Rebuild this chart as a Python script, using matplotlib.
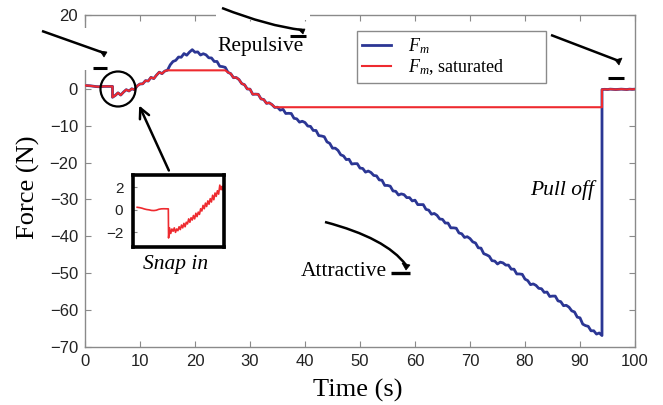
import numpy as np
import matplotlib
matplotlib.use("Agg")
import matplotlib.pyplot as plt
from matplotlib.transforms import Affine2D
from matplotlib.patches import Rectangle, Circle, FancyArrowPatch, Polygon
from matplotlib.path import Path
from matplotlib.patches import PathPatch
from matplotlib.lines import Line2D

plt.rcParams['font.family'] = ['Liberation Sans', 'DejaVu Sans']
plt.rcParams['mathtext.fontset'] = 'custom'
plt.rcParams['mathtext.it'] = 'Liberation Serif:italic'
plt.rcParams['mathtext.rm'] = 'Liberation Serif'

# ---------------- data ----------------
time_pre = [0.0, 0.5, 1.0, 1.5, 2.0, 2.5, 3.0, 3.5, 4.0, 4.5, 5.0]
force_pre = [0.9, 0.85, 0.8, 0.7, 0.6, 0.55, 0.6, 0.65, 0.65, 0.65, 0.65]

time_load_start, time_load_end, time_load_step = 5.0, 94.0, 0.5
force_load = [
    -2.3, -1.8, -1.1, -1.7, -0.9, -0.25, -0.6, 0.0, -0.25, 0.8,
    1.3, 1.35, 2.2, 2.1, 3.1, 2.75, 3.7, 4.5, 4.1, 4.8,
    5.05, 6.5, 7.4, 7.7, 8.6, 8.55, 9.55, 9.1, 9.95, 10.6,
    9.9, 10.0, 9.15, 9.5, 9.2, 8.4, 8.35, 7.4, 7.4, 6.1,
    6.0, 5.8, 4.45, 4.1, 3.0, 3.05, 2.5, 1.4, 1.1, -0.05,
    -0.1, -1.5, -1.45, -1.5, -2.75, -2.9, -3.95, -3.8, -4.3, -5.05,
    -5.0, -5.8, -5.55, -6.7, -6.65, -6.7, -8.0, -8.15, -9.05, -8.8,
    -9.15, -10.1, -10.2, -11.3, -11.3, -12.7, -12.8, -13.0, -14.4, -14.8,
    -16.1, -16.1, -16.7, -17.9, -18.2, -19.2, -19.1, -20.4, -20.3, -20.3,
    -21.5, -21.6, -22.6, -22.3, -22.7, -23.5, -23.6, -24.7, -24.8, -26.2,
    -26.2, -26.4, -27.7, -27.8, -28.8, -28.5, -28.7, -29.5, -29.5, -30.4,
    -30.2, -31.4, -31.4, -31.4, -32.7, -32.9, -34.0, -33.8, -34.3, -35.3,
    -35.4, -36.4, -36.4, -37.7, -37.7, -37.8, -39.1, -39.3, -40.3, -40.1,
    -40.6, -41.5, -41.8, -43.1, -43.2, -44.7, -45.0, -45.4, -46.6, -46.7,
    -47.5, -47.0, -47.2, -47.8, -47.8, -48.9, -48.9, -50.2, -50.2, -50.3,
    -51.6, -52.0, -53.1, -52.9, -53.3, -54.1, -54.2, -55.2, -55.1, -56.3,
    -56.2, -56.2, -57.5, -57.7, -58.8, -58.7, -59.2, -60.2, -60.5, -61.9,
    -62.1, -63.8, -64.2, -64.4, -65.6, -65.6, -66.5, -66.2, -66.9,
]

time_post = [94.0, 94.5, 95.0, 95.5, 96.0, 96.5, 97.0, 97.5, 98.0, 98.5, 99.0, 99.5, 100.0]
force_post = [-0.2, -0.15, -0.2, -0.1, -0.15, -0.2, -0.15, -0.1, -0.15, -0.2, -0.1, -0.15, -0.1]

saturation_low, saturation_high = -5.0, 5.0

inset_time = [2.35, 2.55, 2.75, 2.95, 3.15, 3.35, 3.55, 3.75, 3.95, 4.15, 4.35, 4.55, 4.95,
              4.97, 5.05, 5.15, 5.25, 5.35, 5.45, 5.55, 5.65, 5.75, 5.85, 5.95, 6.05,
              6.15, 6.25, 6.35, 6.45, 6.55, 6.65, 6.75, 6.85, 6.95, 7.05, 7.15, 7.25,
              7.35, 7.45, 7.55, 7.65, 7.75, 7.85, 7.95, 8.05, 8.15, 8.25, 8.35, 8.45,
              8.55, 8.65, 8.75, 8.85, 8.95, 9.05, 9.15, 9.25, 9.35, 9.45, 9.48]
inset_force = [0.23, 0.2, 0.15, 0.08, 0.03, 0.0, -0.05, -0.06, -0.03, 0.05, 0.09, 0.1, 0.09,
               -2.5, -1.6, -2.1, -1.7, -1.9, -1.6, -2.0, -1.7, -1.85, -1.5, -1.75, -1.35,
               -1.6, -1.2, -1.5, -1.1, -1.25, -0.8, -1.1, -0.7, -0.9, -0.5, -0.8, -0.3,
               -0.6, -0.2, -0.4, 0.1, -0.1, 0.4, 0.1, 0.6, 0.3, 0.8, 0.5, 1.0,
               0.7, 1.3, 0.9, 1.5, 1.2, 1.7, 1.4, 2.2, 1.8, 2.1, 1.8]

x_ticks = [0, 10, 20, 30, 40, 50, 60, 70, 80, 90, 100]
y_ticks = [20, 0, -10, -20, -30, -40, -50, -60, -70]
inset_y_ticks = [2, 0, -2]

# ---------------- build series ----------------
time_load = np.arange(time_load_start, time_load_end + 1e-9, time_load_step)
time_all = np.concatenate([time_pre, time_load, time_post])
force_all = np.concatenate([force_pre, force_load, force_post])
force_sat = np.clip(force_all, saturation_low, saturation_high)

BLUE = '#2b3694'
RED = '#ee2a2f'
GREY = '#8a8a8a'

W, H = 663, 405
fig = plt.figure(figsize=(W / 100, H / 100), dpi=100)
pix = Affine2D().scale(1 / W, -1 / H).translate(0, 1) + fig.transFigure

ax = fig.add_axes([85 / W, (H - 347) / H, 550 / W, 332 / H])
ax.plot(time_all, force_all, color=BLUE, lw=2.0, label=r'$F_m$', zorder=2)
ax.plot(time_all, force_sat, color=RED, lw=1.5, label=r'$F_m$, saturated', zorder=3)
ax.set_xlim(0, 100)
ax.set_ylim(-70, 20)
ax.set_xticks(x_ticks)
ax.set_yticks(y_ticks)
for s in ax.spines.values():
    s.set_color(GREY)
    s.set_linewidth(1.0)
ax.tick_params(direction='in', length=4, width=0.8, color=GREY, labelsize=12,
               labelcolor='#222222', pad=5, top=True, right=True,
               labeltop=False, labelright=False)
ax.set_xlabel('Time (s)', family='Liberation Serif', fontsize=19)
ax.set_ylabel('Force (N)', family='Liberation Serif', fontsize=19)
ax.xaxis.set_label_coords(0.496, -0.097)
ax.yaxis.set_label_coords(-0.081, 0.48)

leg = ax.legend(loc='upper left', bbox_to_anchor=(0.4945, 0.951), fancybox=False,
                edgecolor=GREY, framealpha=1, prop={'family': 'Liberation Serif', 'size': 13},
                handlelength=1.6, labelspacing=0.05, borderpad=0.3, handletextpad=0.9,
                borderaxespad=0)
leg.get_frame().set_linewidth(1.0)
leg_texts = leg.get_texts()
leg_texts[1].set_text(r'$F_m$, saturated' + '\u2007' * 4 + ' ')

# white gaps in frame (occluded by drawing annotations)
fig.add_artist(Rectangle((216, 10), 94, 10, transform=pix, facecolor='white', edgecolor='none', zorder=5))
fig.add_artist(Rectangle((80, 28), 10, 42, transform=pix, facecolor='white', edgecolor='none', zorder=5))

# ---------------- inset ----------------
axi = fig.add_axes([133 / W, (H - 247) / H, 91 / W, 72 / H])
axi.plot(inset_time, inset_force, color=RED, lw=1.2)
axi.set_xlim(2.0, 9.6)
axi.set_ylim(-3.3, 3.1)
axi.set_xticks([])
axi.set_yticks(inset_y_ticks)
axi.tick_params(axis='y', direction='in', length=3, width=0.8, color=GREY, labelsize=11,
                labelcolor='#222222', pad=7)
for s in axi.spines.values():
    s.set_color('black')
    s.set_linewidth(2.6)

# ---------------- annotations ----------------
def seg(p0, p1, lw=1.8):
    fig.add_artist(Line2D([p0[0], p1[0]], [p0[1], p1[1]], transform=pix, color='black',
                          lw=lw, solid_capstyle='butt', zorder=6))

def tip(pts):
    fig.add_artist(Polygon(pts, closed=True, transform=pix, facecolor='black',
                           edgecolor='black', lw=0.5, zorder=6))

def curve(p0, p1, p2, lw=1.8):
    path = Path([p0, p1, p2], [Path.MOVETO, Path.CURVE3, Path.CURVE3])
    fig.add_artist(PathPatch(path, transform=pix, facecolor='none', edgecolor='black',
                             lw=lw, zorder=6))

# top-left
seg((42, 31), (104, 53))
tip([(100, 51), (107, 52), (104, 57)])
seg((93, 67.5), (107, 67.5), lw=2.2)
# top-middle (repulsive)
curve((222, 8), (268, 26), (302, 30))
tip([(298, 29), (305, 29), (303, 34)])
seg((290, 35.5), (306, 35.5), lw=2.2)
# top-right
seg((551, 35), (619, 61))
tip([(615, 60), (622, 58), (619, 65)])
seg((608, 77.5), (624, 77.5), lw=2.2)
# attractive
curve((325, 222), (386, 238), (406, 265))
tip([(402, 263), (410, 265), (406, 270)])
seg((391, 272.5), (410, 272.5), lw=2.4)

# circle around snap in
fig.add_artist(Circle((118, 89), 17.5, transform=pix, facecolor='none', edgecolor='black',
                      lw=1.6, zorder=6))
# arrow from inset to circle
fig.add_artist(FancyArrowPatch((170, 173), (138, 103), transform=pix, arrowstyle='->',
                               mutation_scale=18, lw=1.8, color='black', zorder=6))

serif = 'Liberation Serif'
fig.text(261, 47, 'Repulsive', transform=pix, family=serif, fontsize=15.5,
         ha='center', va='center', zorder=7)
fig.text(344, 271, 'Attractive', transform=pix, family=serif, fontsize=15.5,
         ha='center', va='center', zorder=7)
fig.text(176, 265, 'Snap in', transform=pix, family=serif, style='italic', fontsize=15.5,
         ha='center', va='center', zorder=7)
fig.text(562, 190, 'Pull off', transform=pix, family=serif, style='italic', fontsize=15.5,
         ha='center', va='center', zorder=7)

fig.savefig('out.png', dpi=100)
